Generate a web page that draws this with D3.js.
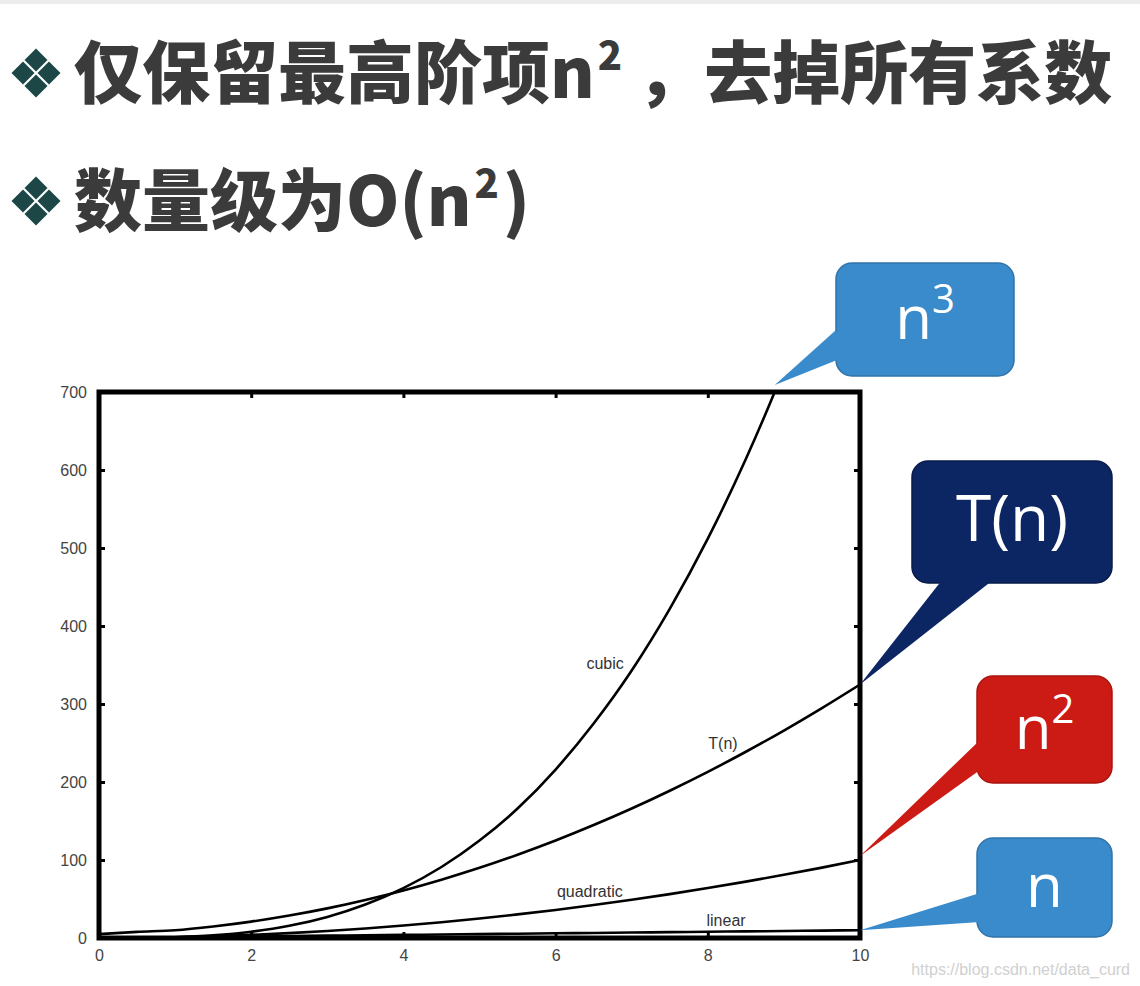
<!DOCTYPE html>
<html><head><meta charset="utf-8">
<script src="https://cdn.jsdelivr.net/npm/d3@7"></script>
<style>
html,body{margin:0;padding:0;background:#fff;}
svg{display:block;}
</style>
</head><body>
<script>
// ---- data ----
const nValues   = [0,0.5,1,1.5,2,2.5,3,3.5,4,4.5,5,5.5,6,6.5,7,7.5,8,8.5,9,9.5,10];
const cubic     = [0,0.1,1,3.4,8,15.6,27,42.9,64,91,125,166,216,275,343,422,512,614,729,857,1000];
const tOfN      = [5,7.8,10,14.8,21,28.8,38,48.8,61,74.8,90,106.8,125,144.8,166,188.8,213,238.8,266,294.8,325];
const quadratic = [0,0.25,1,2.25,4,6.25,9,12.25,16,20.25,25,30.25,36,42.25,49,56.25,64,72.25,81,90.25,100];
const linear    = [0,0.5,1,1.5,2,2.5,3,3.5,4,4.5,5,5.5,6,6.5,7,7.5,8,8.5,9,9.5,10];
const xTicks = [0,2,4,6,8,10];
const yTicks = [0,100,200,300,400,500,600,700];
const curveLabels = [
  {text:"cubic", n:6.65, v:345},
  {text:"T(n)", n:8.2, v:242},
  {text:"quadratic", n:6.45, v:53},
  {text:"linear", n:8.24, v:15}
];
const bubbles = [
  {main:"n", sup:"3", color:"#3a8bcb", stroke:"#2f74ab", tipN:8.88, tipV:700, tipDy:-7},
  {main:"T(n)", sup:"", color:"#0c2563", stroke:"#081b4a", tipN:10, tipV:325, tipDy:0},
  {main:"n", sup:"2", color:"#cc1a14", stroke:"#a8150f", tipN:10, tipV:100, tipDy:-4},
  {main:"n", sup:"", color:"#3a8bcb", stroke:"#2f74ab", tipN:10, tipV:10, tipDy:0}
];

(function(){
const W=1140,H=986;
const svg=d3.select("body").append("svg").attr("width",W).attr("height",H);

svg.append("rect").attr("x",0).attr("y",0).attr("width",W).attr("height",4).attr("fill","#ececec");

// ---- titles ----
function diamond(g,cx,cy){
  const s=11.5;
  [[0,-13],[-13,0],[13,0],[0,13]].forEach(([dx,dy])=>{
    g.append("path").attr("d",`M${cx+dx},${cy+dy-s}L${cx+dx+s},${cy+dy}L${cx+dx},${cy+dy+s}L${cx+dx-s},${cy+dy}Z`)
     .attr("fill","#1d4747");
  });
}
diamond(svg,36,73);
diamond(svg,36,201);
const tf='"Noto Sans CJK SC","Noto Sans",sans-serif';
const t1=svg.append("text").attr("x",74).attr("y",98).attr("font-family",tf).attr("font-weight",900)
  .attr("font-size",68).attr("fill","#3b3b3b");
t1.append("tspan").text("仅保留最高阶项n");
t1.append("tspan").attr("font-size",40).attr("dy",-28).attr("dx",3).text("2");
t1.append("tspan").attr("dy",28).attr("dx",14).attr("font-size",68).text("，去掉所有系数");
const t2=svg.append("text").attr("x",74).attr("y",226).attr("font-family",tf).attr("font-weight",900)
  .attr("font-size",68).attr("fill","#3b3b3b");
t2.append("tspan").text("数量级为O(n");
t2.append("tspan").attr("font-size",40).attr("dy",-28).attr("dx",3).text("2");
t2.append("tspan").attr("dy",28).attr("dx",4).attr("font-size",68).text(")");

// ---- chart ----
const x=d3.scaleLinear().domain([0,10]).range([99,860]);
const y=d3.scaleLinear().domain([0,700]).range([938,392]);

svg.append("clipPath").attr("id","clip").append("rect")
  .attr("x",x(0)).attr("y",y(700)).attr("width",x(10)-x(0)).attr("height",y(0)-y(700));

const line=d3.line().x((d,i)=>x(nValues[i])).y(d=>y(d)).curve(d3.curveMonotoneX);
const gC=svg.append("g").attr("clip-path","url(#clip)");
[cubic,tOfN,quadratic,linear].forEach(s=>{
  gC.append("path").attr("d",line(s)).attr("fill","none").attr("stroke","#000").attr("stroke-width",2.6);
});

const axF='Arial,"Liberation Sans",sans-serif';
const axL=svg.append("g").attr("transform",`translate(${x(0)},0)`)
  .call(d3.axisLeft(y).tickValues(yTicks).tickSize(-6).tickPadding(12));
const axR=svg.append("g").attr("transform",`translate(${x(10)},0)`)
  .call(d3.axisRight(y).tickValues(yTicks.slice(1,-1)).tickSize(-6).tickFormat(""));
const axB=svg.append("g").attr("transform",`translate(0,${y(0)})`)
  .call(d3.axisBottom(x).tickValues(xTicks).tickSize(-6).tickPadding(12));
const axT=svg.append("g").attr("transform",`translate(0,${y(700)})`)
  .call(d3.axisTop(x).tickValues(xTicks.slice(1,-1)).tickSize(-6).tickFormat(""));
[axL,axR,axB,axT].forEach(g=>{
  g.select(".domain").remove();
  g.selectAll(".tick line").attr("stroke","#000").attr("stroke-width",3);
  g.selectAll("text").attr("font-family",axF).attr("font-size",16).attr("fill","#444");
});
axL.selectAll(".tick").filter(d=>d===0||d===700).select("line").remove();
axB.selectAll(".tick").filter(d=>d===0||d===10).select("line").remove();

svg.append("rect").attr("x",x(0)).attr("y",y(700)).attr("width",x(10)-x(0)).attr("height",y(0)-y(700))
  .attr("fill","none").attr("stroke","#000").attr("stroke-width",5);

curveLabels.forEach(l=>{
  svg.append("text").attr("x",x(l.n)).attr("y",y(l.v)).attr("text-anchor","middle")
    .attr("font-family",axF).attr("font-size",16).attr("fill","#333").text(l.text);
});

// ---- callout bubbles ----
const boxes=[
  {x:836,y:263,w:178,h:113, base:[[836,330],[842,358]]},
  {x:912,y:461,w:200,h:122, base:[[942,580],[993,580]]},
  {x:977,y:676,w:135,h:107, base:[[980,740],[980,770]]},
  {x:977,y:838,w:135,h:99,  base:[[980,893],[980,922]]}
];
const bf='"Open Sans","Noto Sans",sans-serif';
bubbles.forEach((b,i)=>{
  const bx=boxes[i];
  const g=svg.append("g");
  g.append("rect").attr("x",bx.x).attr("y",bx.y).attr("width",bx.w).attr("height",bx.h)
    .attr("rx",16).attr("fill",b.color).attr("stroke",b.stroke).attr("stroke-width",1.5);
  const tip=[x(b.tipN),y(b.tipV)+b.tipDy];
  g.append("path").attr("d",`M${bx.base[0][0]},${bx.base[0][1]}L${tip[0]},${tip[1]}L${bx.base[1][0]},${bx.base[1][1]}Z`)
    .attr("fill",b.color);
  const t=g.append("text").attr("x",bx.x+bx.w/2).attr("y",bx.y+bx.h/2+19).attr("text-anchor","middle")
    .attr("font-family",bf).attr("font-size",i===1?64:60).attr("fill","#fff");
  t.append("tspan").text(b.main);
  if(b.sup){ t.append("tspan").attr("font-size",40).attr("dy",-26).text(b.sup); }
});

svg.append("text").attr("x",1130).attr("y",975).attr("text-anchor","end")
  .attr("font-family",'"Liberation Sans Narrow",Arial,sans-serif').attr("font-size",16)
  .attr("fill","#d0d0d0").text("https://blog.csdn.net/data_curd");
})();
</script>
</body></html>
